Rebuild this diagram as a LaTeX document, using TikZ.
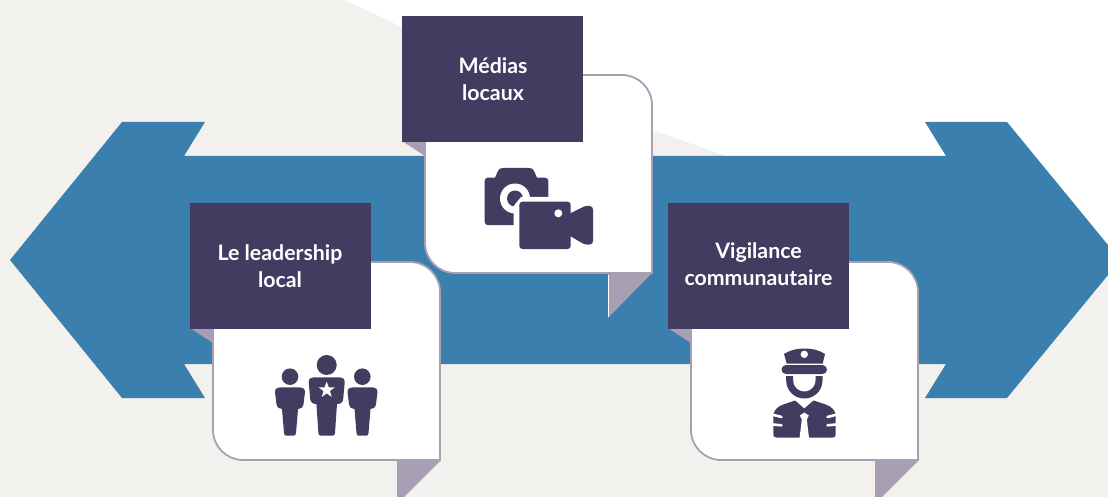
\documentclass[tikz,border=0pt]{standalone}
\usepackage{fontspec}
\setmainfont{Lato}
\definecolor{bgc}{HTML}{F2F1EE}
\definecolor{bluec}{HTML}{3A7FAD}
\definecolor{darkc}{HTML}{433C60}
\definecolor{lilac}{HTML}{A99FB4}
\tikzset{
  cardtext/.style={fill=darkc,text=white,minimum width=181pt,minimum height=126pt,inner sep=0pt,anchor=north west},
  labeltext/.style={text=white,align=center,inner sep=0pt,font=\fontsize{21.3}{26.8}\selectfont\bfseries},
  icon/.style={fill=darkc,draw=none},
  gap/.style={fill=white,draw=none}
}
\newcommand{\drawfold}[2]{\fill[lilac] (#1,#2) -- (#1+23,#2) -- (#1+23,#2+15) -- cycle;}
\newcommand{\drawman}[5]{% x, ytop, half shoulder, armbottom, half foot
  \fill[icon] (#1-#3,#2+5) .. controls (#1-#3,#2+1.5) and (#1-#3+2,#2) .. (#1-#3+5,#2)
    -- (#1+#3-5,#2) .. controls (#1+#3-2,#2) and (#1+#3,#2+1.5) .. (#1+#3,#2+5)
    -- (#1+#3-1.5,#4-5) .. controls (#1+#3-2,#4-1.5) and (#1+#3-4,#4) .. (#1+#5+2,#4)
    -- (#1+#5,433) .. controls (#1+#5-.2,435) and (#1+#5-1,435.7) .. (#1+#5-2.5,435.7)
    -- (#1-#5+2.5,435.7) .. controls (#1-#5+1,435.7) and (#1-#5+.2,435) .. (#1-#5,433)
    -- (#1-#5-2,#4) .. controls (#1-#3+4,#4) and (#1-#3+2,#4-1.5) .. (#1-#3+1.5,#4-5) -- cycle;}
\begin{document}
\begin{tikzpicture}[x=1pt,y=-1pt]
\useasboundingbox (0,0) rectangle (1108,497);
\fill[bgc] (0,0) rectangle (1108,497);
\fill[white] (345,0) -- (402,27) -- (652,130) -- (727,156) -- (1108,272) -- (1108,0) -- cycle;
% double arrow
\fill[bluec] (10,260) -- (122,122) -- (205,122) -- (184,156) -- (946,156) -- (925,122) -- (1007,122)
  -- (1108,245) -- (1108,275) -- (1007,398) -- (925,398) -- (946,364) -- (184,364) -- (205,398) -- (122,398) -- cycle;
% cards
\fill[lilac] (608,273) -- (652,273) -- (608,318) -- cycle;
\draw[white,line width=.6pt] (608,275) -- (608,317);
\draw[lilac,fill=white,line width=1.8pt] (425,75) -- (622,75) .. controls (638.5,75) and (652,88.5) .. (652,105)
  -- (652,273) -- (455,273) .. controls (438.5,273) and (425,259.5) .. (425,243) -- cycle;
\fill[lilac] (397,460) -- (441,460) -- (404,497) -- (397,497) -- cycle;
\draw[lilac,fill=white,line width=1.8pt] (213,262) -- (410,262) .. controls (426.5,262) and (440,275.5) .. (440,292)
  -- (440,460) -- (243,460) .. controls (226.5,460) and (213,446.5) .. (213,430) -- cycle;
\fill[lilac] (875,460) -- (919,460) -- (882,497) -- (875,497) -- cycle;
\draw[lilac,fill=white,line width=1.8pt] (691,262) -- (888,262) .. controls (904.5,262) and (918,275.5) .. (918,292)
  -- (918,460) -- (721,460) .. controls (704.5,460) and (691,446.5) .. (691,430) -- cycle;
% folds
\drawfold{402}{141}
\drawfold{190}{328}
\drawfold{668}{328}
% headers
\node[cardtext] (hmedias) at (402,15.5) {};
\node[cardtext] (hlead) at (190,202.5) {};
\node[cardtext] (hvig) at (668,202.5) {};
\node[labeltext] (tmedias) at (493,79.5) {Médias\\locaux};
\node[labeltext] (tlead) at (280,266.5) {Le leadership\\local};
\node[labeltext] (tvig) at (758.5,264) {Vigilance\\communautaire};
% camera
\fill[icon] (487.7,177.7) -- (495,177.7) -- (498,171) .. controls (499,169) and (500,168) .. (503,168)
  -- (529,168) .. controls (532,168) and (533,169) .. (534,171) -- (537,177.7) -- (545,177.7)
  .. controls (547,177.7) and (548.3,179) .. (548.3,181) -- (548.3,205) -- (513.5,225) -- (487.7,225)
  .. controls (486,225) and (484.7,223.7) .. (484.7,222) -- (484.7,181) .. controls (484.7,179) and (486,177.7) .. (487.7,177.7) -- cycle;
\fill[icon] (513.5,225) rectangle (525,205);
\fill[gap] (515,198.5) circle[radius=15];
\fill[icon] (515,198.5) circle[radius=8];
\fill[gap] (513.6,254) -- (513.6,206) -- (521,197) -- (576,197) -- (576,254) -- cycle;
\fill[icon] (522.5,201.7) -- (567.5,201.7) .. controls (569.5,201.7) and (570.7,203) .. (570.7,205)
  -- (570.7,245.7) .. controls (570.7,247.7) and (569.5,249) .. (567.5,249) -- (522.5,249)
  .. controls (520.5,249) and (519.3,247.7) .. (519.3,245.7) -- (519.3,205) .. controls (519.3,203) and (520.5,201.7) .. (522.5,201.7) -- cycle;
\fill[gap] (558.3,213.3) circle[radius=4];
\fill[icon] (570,213.5) -- (582,207.5) .. controls (583.5,206.8) and (585,206) .. (586.5,206) -- (589.5,206)
  .. controls (591.8,206) and (593,207.5) .. (593,209.5) -- (593,241) .. controls (593,243) and (591.8,244.5) .. (589.5,244.5)
  -- (586.5,244.5) .. controls (585,244.5) and (583.5,243.8) .. (582,243) -- (570,236) -- cycle;
% people
\fill[icon] (290,376.7) circle[radius=8.3];
\fill[icon] (326.7,365) circle[radius=10];
\fill[icon] (362.3,376.7) circle[radius=8.3];
\drawman{290}{387.3}{15}{409}{6}
\drawman{362.5}{387.3}{15}{409}{6}
\drawman{326.7}{377.3}{18}{404}{8.3}
\fill[gap] (326.7,381.5) -- (328.7,387.25) -- (334.78,387.37) -- (329.93,391.05) -- (331.7,396.88) -- (326.7,393.4)
  -- (321.7,396.88) -- (323.47,391.05) -- (318.62,387.37) -- (324.7,387.25) -- cycle;
% officer
\fill[icon] (784,354) .. controls (790,350) and (797,348.5) .. (804.5,348.5) .. controls (812,348.5) and (819,350) .. (825,354)
  -- (822.7,363.5) -- (786.7,363.5) -- cycle;
\fill[gap] (804.3,354.3) circle[radius=3.7];
\fill[icon] (786,365) -- (822.5,365) .. controls (825,365) and (827,367.5) .. (827,369.5) .. controls (827,372) and (825,374) .. (822.5,374)
  -- (786,374) .. controls (783.5,374) and (781.5,372) .. (781.5,369.5) .. controls (781.5,367.5) and (783.5,365) .. (786,365) -- cycle;
\draw[darkc,line width=7pt] (789.7,376) -- (789.7,380.5) .. controls (789.7,388.5) and (796.2,395) .. (804.3,395)
  .. controls (812.4,395) and (819,388.5) .. (819,380.5) -- (819,376);
\fill[icon] (795,400.5) -- (804.3,408.5) -- (813.5,400.5) -- (827,405) .. controls (832,407) and (835.7,411) .. (835.7,416)
  -- (835.7,434.5) .. controls (835.7,436.5) and (834.5,437.5) .. (832.5,437.5) -- (776.5,437.5)
  .. controls (774.5,437.5) and (773.3,436.5) .. (773.3,434.5) -- (773.3,416) .. controls (773.3,411) and (777,407) .. (782,405) -- cycle;
\fill[gap] (804.3,412.5) -- (808.8,415.5) -- (806.8,419.5) -- (809,437.8) -- (799.6,437.8) -- (801.8,419.5) -- (799.8,415.5) -- cycle;
\draw[white,line width=2.6pt,line cap=round] (773,414.8) -- (781.5,417);
\draw[white,line width=2.6pt,line cap=round] (773,424.5) -- (781.5,425.3);
\draw[white,line width=2.6pt,line cap=round] (836,414.8) -- (827.5,417);
\draw[white,line width=2.6pt,line cap=round] (836,424.5) -- (827.5,425.3);
\end{tikzpicture}
\end{document}
